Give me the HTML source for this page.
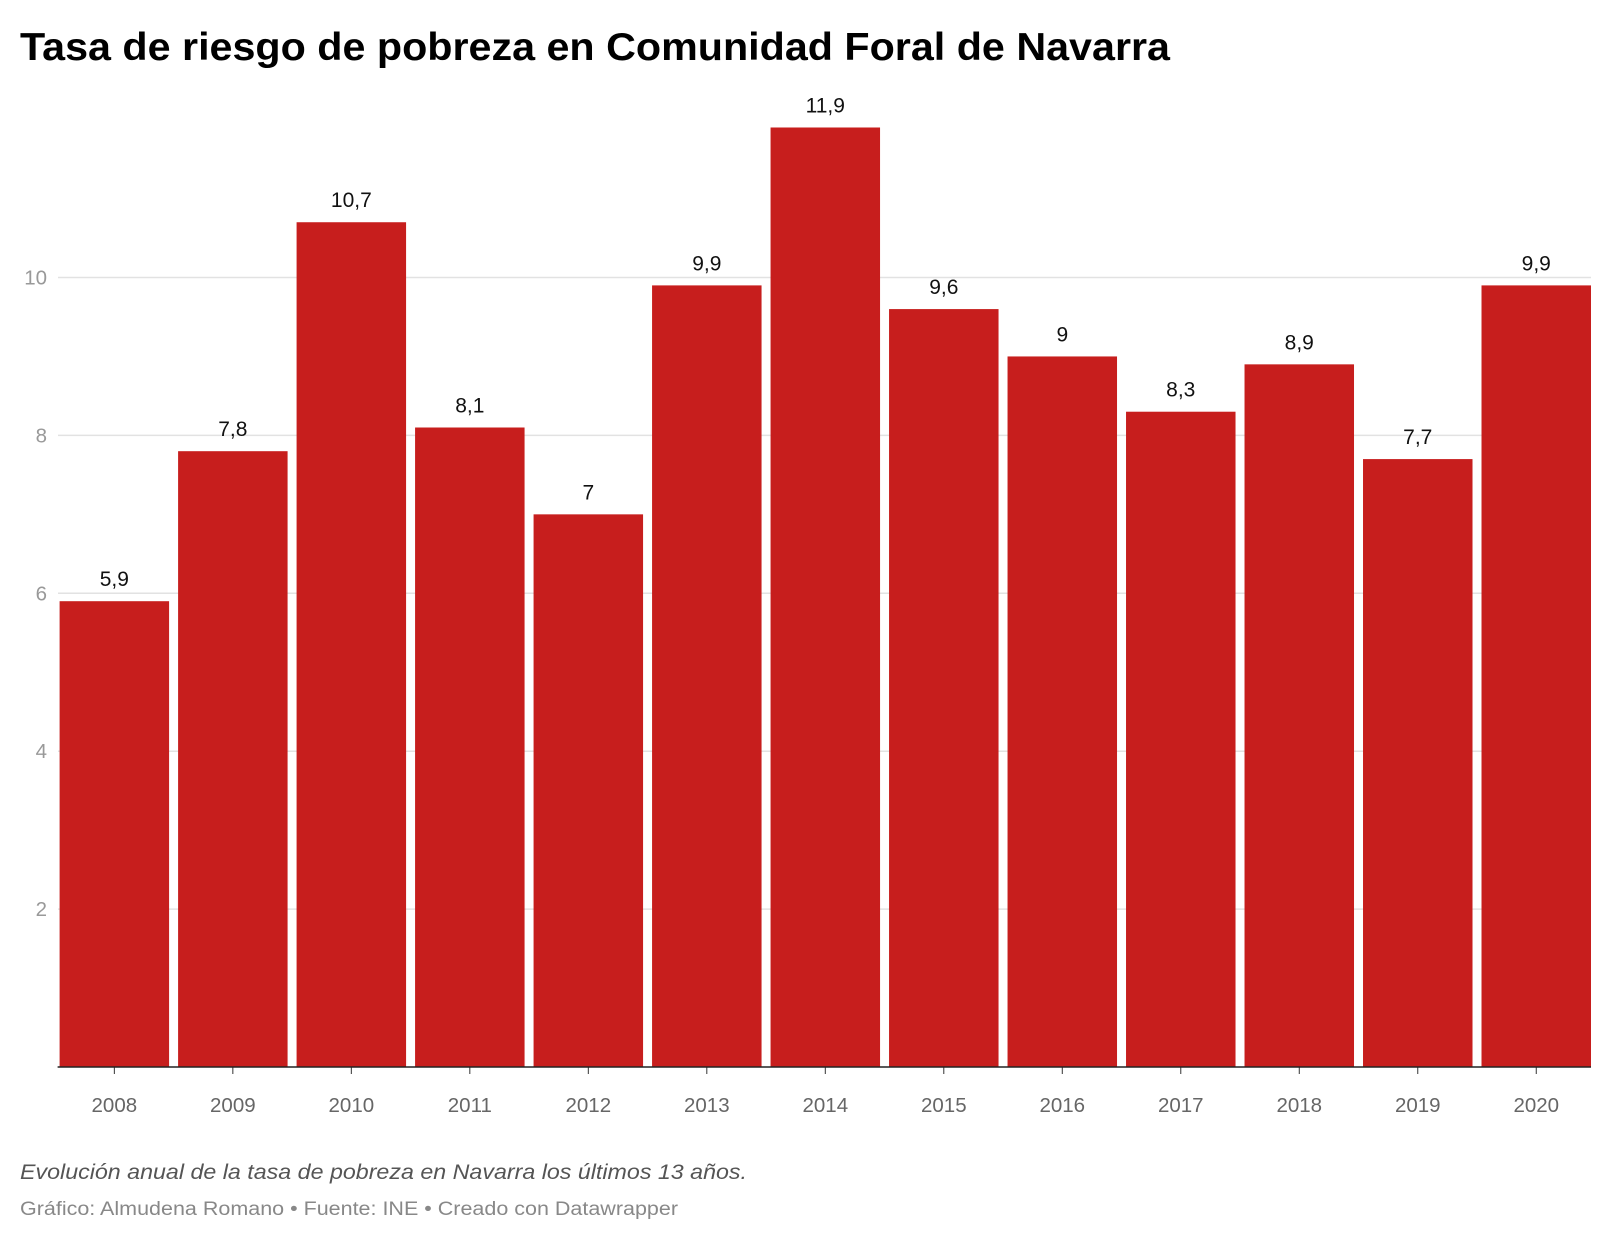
<!DOCTYPE html>
<html><head><meta charset="utf-8"><style>
body{margin:0;background:#fff;width:1610px;height:1240px;overflow:hidden;font-family:"Liberation Sans",sans-serif}
</style></head><body>
<svg width="1610" height="1240">
<text x="20" y="60" font-size="39" font-weight="bold" fill="#000" textLength="1150" lengthAdjust="spacingAndGlyphs">Tasa de riesgo de pobreza en Comunidad Foral de Navarra</text>
<g id="grid"></g><g id="bars"></g><g id="xaxis"></g>
<text x="20" y="1179" font-size="21" font-style="italic" fill="#555" textLength="727" lengthAdjust="spacingAndGlyphs">Evolución anual de la tasa de pobreza en Navarra los últimos 13 años.</text>
<text x="20" y="1215" font-size="19" fill="#888" textLength="658" lengthAdjust="spacingAndGlyphs">Gráfico: Almudena Romano • Fuente: INE • Creado con Datawrapper</text>
</svg>
<script>
const years=["2008","2009","2010","2011","2012","2013","2014","2015","2016","2017","2018","2019","2020"];
const values=[5.9,7.8,10.7,8.1,7,9.9,11.9,9.6,9,8.3,8.9,7.7,9.9];
const yTicks=[2,4,6,8,10];
const ns="http://www.w3.org/2000/svg";
const x0=59.6,x1=1600,y0=1067,unit=78.95,gridEnd=1591;
const step=(x1-x0)/years.length,bw=step-9;
const y=v=>y0-v*unit;
function mk(t,a,p){const e=document.createElementNS(ns,t);for(const k in a)e.setAttribute(k,a[k]);p.appendChild(e);return e;}
const g=document.getElementById('grid'),b=document.getElementById('bars'),xa=document.getElementById('xaxis');
yTicks.forEach(t=>{
 const l=mk('line',{x1:58,x2:gridEnd,y1:y(t),y2:y(t),stroke:'#e2e2e2','stroke-width':1.5},g);
 
 
 const tx=mk('text',{x:47,y:y(t)+7,'font-size':20.5,fill:'#999','text-anchor':'end'},g);
 tx.textContent=t;
 
 
});
years.forEach((yr,i)=>{
 const v=values[i],bx=x0+i*step,cx=bx+bw/2;
 const r=mk('rect',{x:bx,y:y(v),width:bw,height:v*unit,fill:'#c71e1d'},b);
 
 
 const lb=mk('text',{x:cx,y:y(v)-15,'font-size':21,fill:'#111','text-anchor':'middle'},b);
 lb.textContent=String(v).replace('.',',');
 
 
 const tk=mk('line',{x1:cx,x2:cx,y1:y0,y2:y0+7,stroke:'#333','stroke-width':1},xa);
 
 
 const xl=mk('text',{x:cx,y:1112,'font-size':20.5,fill:'#666','text-anchor':'middle'},xa);
 xl.textContent=yr;
 
 
});
const ax=mk('line',{x1:x0-2,x2:gridEnd,y1:y0,y2:y0,stroke:'#222','stroke-width':1.5},xa);


</script>
</body></html>
